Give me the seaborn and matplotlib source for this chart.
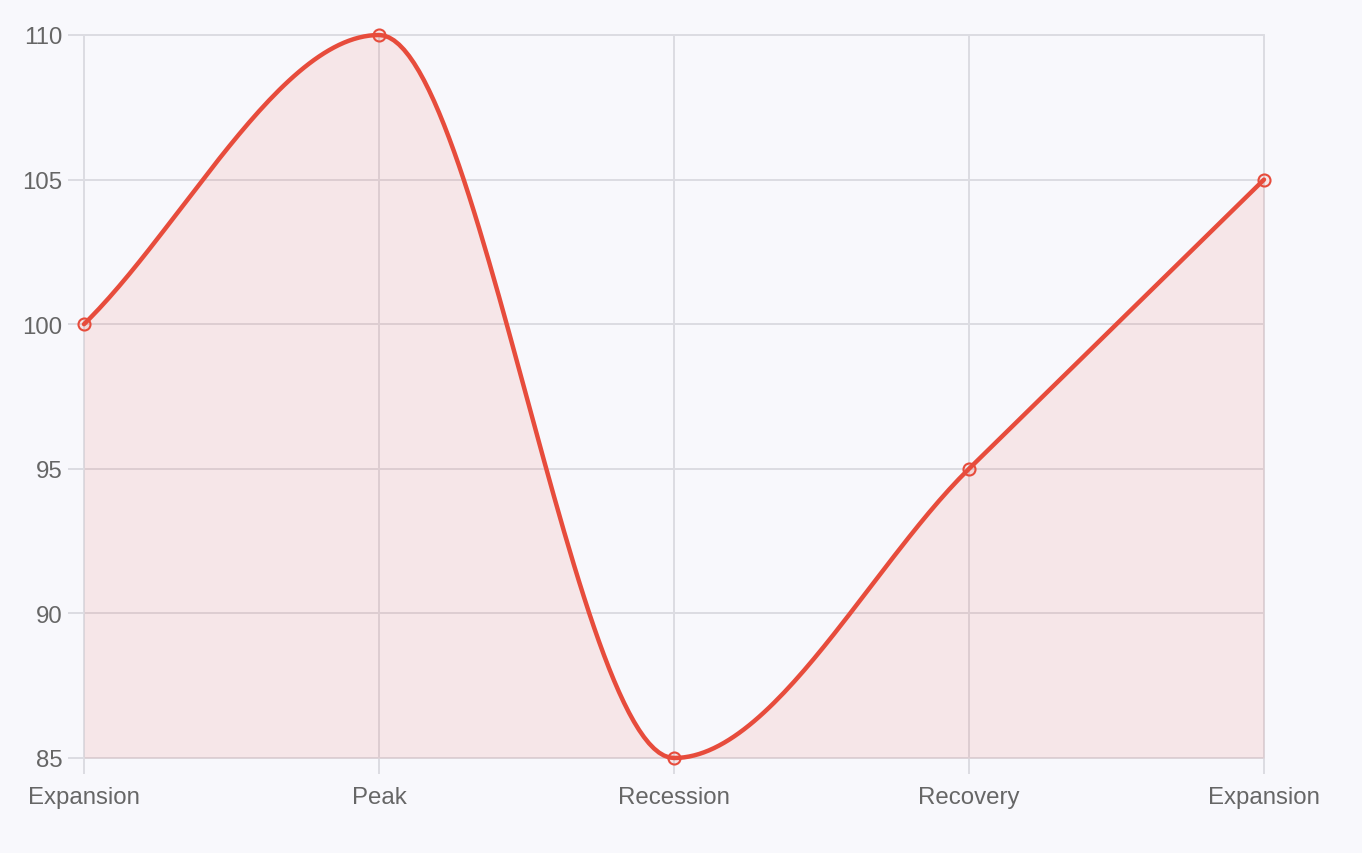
import numpy as np
import pandas as pd
import seaborn as sns
import matplotlib.pyplot as plt

# data
phases = ["Expansion", "Peak", "Recession", "Recovery", "Expansion"]
values = [100, 110, 85, 95, 105]
y_ticks = [85, 90, 95, 100, 105, 110]

line_color = "#e74c3c"
bg = "#f8f8fc"
grid_color = "#dcdce2"
text_color = "#666666"


def monotone_curve(xs, ys, n=60):
    # monotone cubic (like chart.js cubicInterpolationMode 'monotone')
    xs = np.asarray(xs, float)
    ys = np.asarray(ys, float)
    d = np.diff(ys) / np.diff(xs)
    m = np.zeros(len(ys))
    m[0], m[-1] = d[0], d[-1]
    for i in range(1, len(ys) - 1):
        m[i] = 0 if d[i - 1] * d[i] <= 0 else (d[i - 1] + d[i]) / 2
    for i in range(len(d)):
        if d[i] == 0:
            m[i] = m[i + 1] = 0
            continue
        a, b = m[i] / d[i], m[i + 1] / d[i]
        s = a * a + b * b
        if s > 9:
            t = 3 / np.sqrt(s)
            m[i], m[i + 1] = t * a * d[i], t * b * d[i]
    out_x, out_y = [], []
    for i in range(len(d)):
        h = xs[i + 1] - xs[i]
        t = np.linspace(0, 1, n)
        h00 = 2 * t**3 - 3 * t**2 + 1
        h10 = t**3 - 2 * t**2 + t
        h01 = -2 * t**3 + 3 * t**2
        h11 = t**3 - t**2
        out_x.append(xs[i] + t * h)
        out_y.append(h00 * ys[i] + h10 * h * m[i] + h01 * ys[i + 1] + h11 * h * m[i + 1])
    return np.concatenate(out_x), np.concatenate(out_y)


x_pos = np.arange(len(phases))
cx, cy = monotone_curve(x_pos, values)
curve = pd.DataFrame({"x": cx, "y": cy})
points = pd.DataFrame({"x": x_pos, "y": values})

sns.set_style("white")
plt.rcParams["font.family"] = ["Liberation Sans", "DejaVu Sans"]

fig = plt.figure(figsize=(13.62, 8.54), dpi=100, facecolor=bg)
ax = fig.add_axes([84 / 1362, 1 - 759 / 854, 1180 / 1362, 723 / 854])
ax.set_facecolor(bg)

ax.fill_between(cx, cy, 85, color=line_color, alpha=0.1, linewidth=0, zorder=2)
sns.lineplot(data=curve, x="x", y="y", color=line_color, linewidth=3.2,
             sort=False, ax=ax, zorder=3, clip_on=False)
sns.scatterplot(data=points, x="x", y="y", s=75, marker="o",
                facecolor=(231 / 255, 76 / 255, 60 / 255, 0.1),
                edgecolor=line_color, linewidth=1.5, ax=ax, zorder=4,
                clip_on=False)

ax.set_xlim(0, len(phases) - 1)
ax.set_ylim(85, 110)
ax.set_xticks(x_pos)
ax.set_xticklabels(phases)
ax.set_yticks(y_ticks)
ax.set_xlabel("")
ax.set_ylabel("")

ax.grid(True, color=grid_color, linewidth=1.4)
ax.set_axisbelow(True)
for gl in ax.get_xgridlines() + ax.get_ygridlines():
    gl.set_clip_on(False)
for s in ax.spines.values():
    s.set_visible(False)
ax.tick_params(axis="both", bottom=True, left=True, length=11.5, width=1.4,
               color=grid_color, labelcolor=text_color, labelsize=17.3)
ax.tick_params(axis="y", pad=4)
ax.tick_params(axis="x", pad=8.5)

fig.savefig("out.png", dpi=100, facecolor=bg)
